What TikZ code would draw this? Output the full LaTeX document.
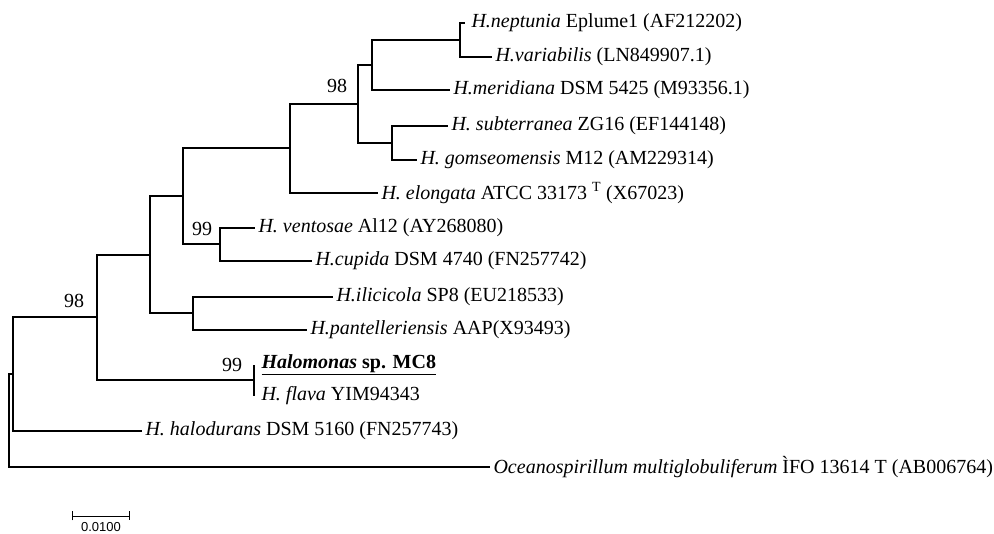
\documentclass[tikz,border=0pt]{standalone}
\usepackage{fontspec}
\setmainfont{Liberation Serif}
\newfontfamily\barfont{Liberation Sans}
\usetikzlibrary{arrows.meta}

\begin{document}
\begin{tikzpicture}[x=1pt, y=-1pt, line width=1.1pt,
  leaf/.style={anchor=west, inner sep=3pt, font=\fontsize{20}{22}\selectfont},
  boot/.style={inner sep=0pt, font=\fontsize{20}{22}\selectfont}]
  \useasboundingbox (0,0) rectangle (994,534);
  \coordinate (NV) at (460, 40);
  \coordinate (NM) at (372, 65);
  \coordinate (SG) at (392, 143);
  \coordinate (BA) at (358, 104);
  \coordinate (NE) at (290, 148);
  \coordinate (VC) at (220, 244);
  \coordinate (NC) at (183, 196);
  \coordinate (IP) at (193, 313);
  \coordinate (NI) at (150, 255);
  \coordinate (MF) at (254, 380);
  \coordinate (BB) at (97, 317);
  \coordinate (NH) at (13, 374);
  \coordinate (R) at (9, 420);
  \node [leaf, inner xsep=6pt] (nep) at (465, 23) {\textit{H.neptunia} Eplume1 (AF212202)};
  \node [leaf] (var) at (492, 57) {\textit{H.variabilis} (LN849907.1)};
  \node [leaf] (mer) at (450, 90) {\textit{H.meridiana} DSM 5425 (M93356.1)};
  \node [leaf] (sub) at (448, 126) {\textit{H. subterranea} ZG16 (EF144148)};
  \node [leaf] (gom) at (417, 160) {\textit{H. gomseomensis} M12 (AM229314)};
  \node [leaf] (elo) at (378, 193) {\textit{H. elongata} ATCC 33173 \textsuperscript{T} (X67023)};
  \node [leaf] (ven) at (255, 228) {\textit{H. ventosae} Al12 (AY268080)};
  \node [leaf] (cup) at (312, 261) {\textit{H.cupida} DSM 4740 (FN257742)};
  \node [leaf] (ili) at (333, 297) {\textit{H.ilicicola} SP8 (EU218533)};
  \node [leaf] (pan) at (307, 330) {\textit{H.pantelleriensis} AAP(X93493)};
  \node [leaf, inner xsep=7pt] (mc) at (254, 365) {\underline{\textbf{\textit{Halomonas} sp. MC8}}};
  \node [leaf, inner xsep=7pt] (fla) at (254, 396) {\textit{H. flava} YIM94343};
  \node [leaf] (hal) at (142, 431) {\textit{H. halodurans} DSM 5160 (FN257743)};
  \node [leaf] (oce) at (490, 467) {\textit{Oceanospirillum multiglobuliferum} ÌFO 13614 T (AB006764)};
  \node [boot] (b1) at (337, 86) {98};
  \node [boot] (b2) at (202, 229) {99};
  \node [boot] (b3) at (74, 301) {98};
  \node [boot] (b4) at (232, 365) {99};
  \draw (R) |- (NH);
  \draw (R) |- (oce.west);
  \draw (NH) |- (BB);
  \draw (NH) |- (hal.west);
  \draw (BB) |- (NI);
  \draw (BB) |- (MF);
  \draw (MF) |- (mc.west);
  \draw (MF) |- (fla.west);
  \draw (NI) |- (NC);
  \draw (NI) |- (IP);
  \draw (IP) |- (ili.west);
  \draw (IP) |- (pan.west);
  \draw (NC) |- (NE);
  \draw (NC) |- (VC);
  \draw (VC) |- (ven.west);
  \draw (VC) |- (cup.west);
  \draw (NE) |- (BA);
  \draw (NE) |- (elo.west);
  \draw (BA) |- (NM);
  \draw (BA) |- (SG);
  \draw (SG) |- (sub.west);
  \draw (SG) |- (gom.west);
  \draw (NM) |- (NV);
  \draw (NM) |- (mer.west);
  \draw (NV) |- (nep.west);
  \draw (NV) |- (var.west);
  \coordinate (SL) at (72, 516);
  \coordinate (SR) at (130, 516);
  \draw [line width=0.9pt, {Bar[width=9pt]}-{Bar[width=9pt]}] (SL) -- (SR);
  \node [inner sep=0pt, font=\barfont\fontsize{13}{15}\selectfont] (sb) at (101, 527) {0.0100};
\end{tikzpicture}
\end{document}
